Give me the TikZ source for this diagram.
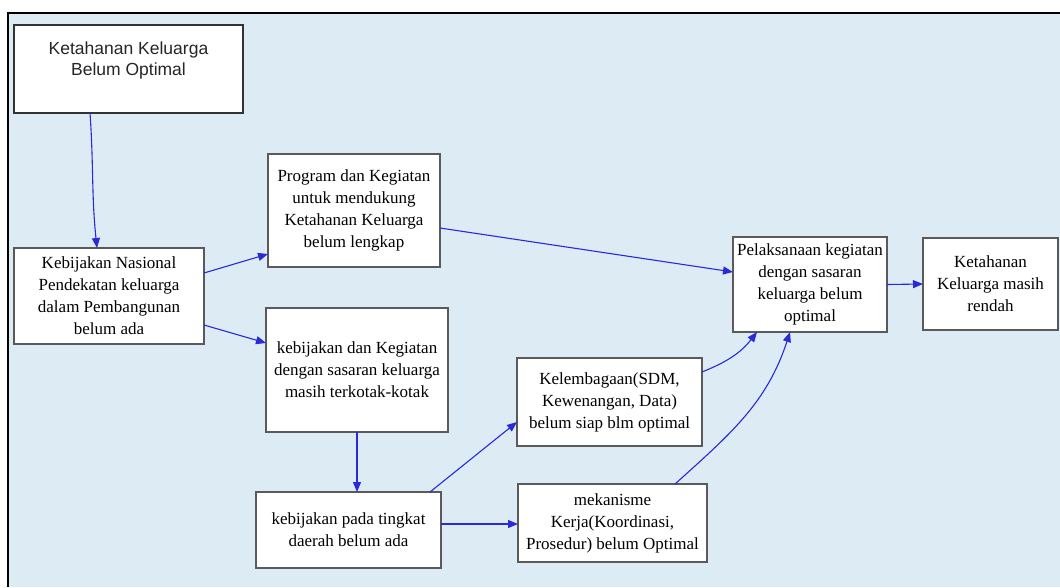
\documentclass[tikz,border=0pt]{standalone}
\usepackage{fontspec}
\setmainfont{Liberation Serif}
\newfontfamily\boxsans{Liberation Sans}
\usetikzlibrary{arrows.meta}
\definecolor{bgblue}{HTML}{DCEBF4}
\definecolor{arrblue}{HTML}{2A2AD8}
\definecolor{boxgray}{HTML}{5A5A5A}
\tikzset{
  box/.style={draw=boxgray, line width=1.5pt, fill=white, inner sep=0pt, outer sep=0pt,
    align=center, font=\fontsize{17}{22}\selectfont},
  conn/.style={draw=arrblue, line width=1.1pt, -{Triangle[length=10pt,width=8pt]}, fill=none}
}
\begin{document}
\begin{tikzpicture}[x=1pt,y=-1pt]
\useasboundingbox (0,0) rectangle (1060,587);
\fill[bgblue] (8,13) rectangle (1060,587);
\draw[black, line width=2pt] (8,587) -- (8,13) -- (1060,13);

\node[box, draw=black!80, line width=2pt, minimum width=229pt, minimum height=88pt,
  label={[font=\boxsans\fontsize{17.5}{21}\selectfont, align=center, yshift=9pt, text=black!85]center:Ketahanan Keluarga\\Belum Optimal}]
  (b1) at (128.5,69) {};
\node[box, minimum width=190pt, minimum height=96pt] (b2) at (109,296)
  {Kebijakan Nasional\\Pendekatan keluarga\\dalam Pembangunan\\belum ada};
\node[box, minimum width=172pt, minimum height=113pt] (b3) at (354,210.5)
  {Program dan Kegiatan\\untuk mendukung\\Ketahanan Keluarga\\belum lengkap};
\node[box, minimum width=182pt, minimum height=124pt] (b4) at (357,370)
  {kebijakan dan Kegiatan\\dengan sasaran keluarga\\masih terkotak-kotak};
\node[box, minimum width=185pt, minimum height=88pt] (b5) at (609.5,402)
  {Kelembagaan(SDM,\\Kewenangan, Data)\\belum siap blm optimal};
\node[box, minimum width=189pt, minimum height=78pt] (b6) at (612.5,523)
  {mekanisme\\Kerja(Koordinasi,\\Prosedur) belum Optimal};
\node[box, minimum width=154pt, minimum height=95pt] (b7) at (810,284.5)
  {Pelaksanaan kegiatan\\dengan sasaran\\keluarga belum\\optimal};
\node[box, minimum width=135pt, minimum height=92pt] (b8) at (990.5,284)
  {Ketahanan\\Keluarga masih\\rendah};
\node[box, minimum width=185pt, minimum height=76pt] (b9) at (348.5,530)
  {kebijakan pada tingkat\\daerah belum ada};

\draw[conn] ([xshift=-38.5pt]b1.south) to[out=-86,in=96] ([xshift=-12pt]b2.north);
\draw[conn] ([yshift=23pt]b2.east) -- ([yshift=-43.5pt]b3.west);
\draw[conn] ([yshift=-29pt]b2.east) -- ([yshift=27pt]b4.west);
\draw[conn] ([yshift=-17.5pt]b3.east) -- ([yshift=12.5pt]b7.west);
\draw[conn] (b4.south) -- (b4.south |- b9.north);
\draw[conn] ([xshift=-11pt]b9.north east) -- ([yshift=-20pt]b5.west);
\draw[conn] ([yshift=6pt]b9.east) -- ([yshift=6pt]b9.east -| b6.west);
\draw[conn] ([yshift=30pt]b5.east) to[out=22,in=-128] ([xshift=-53pt]b7.south);
\draw[conn] ([xshift=62.5pt]b6.north) to[out=42,in=-108] ([xshift=-20pt]b7.south);
\draw[conn] (b7.east) -- (b8.west);
\end{tikzpicture}
\end{document}
